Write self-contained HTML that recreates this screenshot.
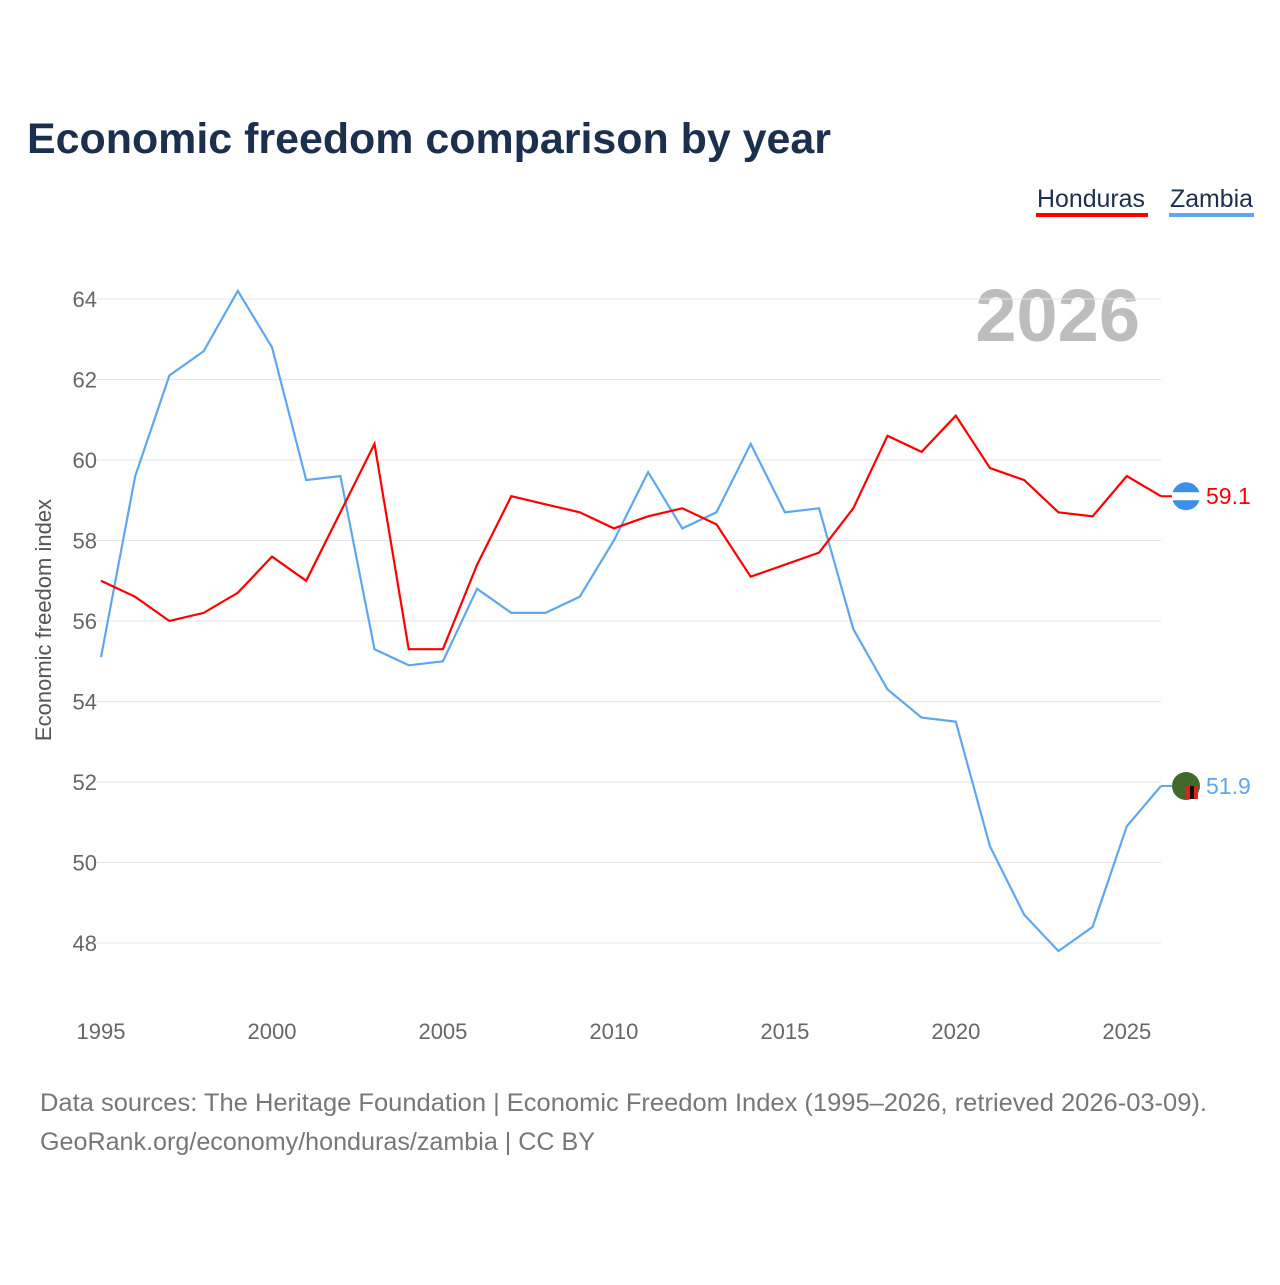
<!DOCTYPE html>
<html><head><meta charset="utf-8"><style>
body{margin:0;background:#fff;font-family:"Liberation Sans",sans-serif;}
</style></head><body>
<svg width="1280" height="1280" viewBox="0 0 1280 1280" xmlns="http://www.w3.org/2000/svg">
<text x="27" y="153" font-size="43" font-weight="bold" fill="#1b2f4e" textLength="804" lengthAdjust="spacingAndGlyphs">Economic freedom comparison by year</text>
<g>
<text x="1037" y="207" font-size="25" fill="#1b2f4e" textLength="108" lengthAdjust="spacingAndGlyphs">Honduras</text>
<rect x="1036" y="213" width="112" height="4" fill="#ff0000"/>
<text x="1170" y="207" font-size="25" fill="#1b2f4e" textLength="83" lengthAdjust="spacingAndGlyphs">Zambia</text>
<rect x="1169" y="213" width="85" height="4" fill="#5ea7ee"/>
</g>
<text x="1140" y="341" font-size="74" font-weight="bold" fill="#bdbdbd" text-anchor="end">2026</text>
<text transform="translate(51,620) rotate(-90)" font-size="22" fill="#555" text-anchor="middle">Economic freedom index</text>
<g id="grid"></g><g id="lines"></g>
<text x="40" y="1111" font-size="25" fill="#777" textLength="1167" lengthAdjust="spacingAndGlyphs">Data sources: The Heritage Foundation | Economic Freedom Index (1995–2026, retrieved 2026-03-09).</text>
<text x="40" y="1150" font-size="25" fill="#777" textLength="555" lengthAdjust="spacingAndGlyphs">GeoRank.org/economy/honduras/zambia | CC BY</text>
</svg>
<script>
const years=[1995,1996,1997,1998,1999,2000,2001,2002,2003,2004,2005,2006,2007,2008,2009,2010,2011,2012,2013,2014,2015,2016,2017,2018,2019,2020,2021,2022,2023,2024,2025,2026];
const honduras=[57.0,56.6,56.0,56.2,56.7,57.6,57.0,58.7,60.4,55.3,55.3,57.4,59.1,58.9,58.7,58.3,58.6,58.8,58.4,57.1,57.4,57.7,58.8,60.6,60.2,61.1,59.8,59.5,58.7,58.6,59.6,59.1];
const zambia=[55.1,59.6,62.1,62.7,64.2,62.8,59.5,59.6,55.3,54.9,55.0,56.8,56.2,56.2,56.6,58.0,59.7,58.3,58.7,60.4,58.7,58.8,55.8,54.3,53.6,53.5,50.4,48.7,47.8,48.4,50.9,51.9];
const yTicks=[48,50,52,54,56,58,60,62,64];
const xTicks=[1995,2000,2005,2010,2015,2020,2025];
const NS="http://www.w3.org/2000/svg";
const xs=y=>101+(y-1995)*(1060/31);
const ys=v=>943-(v-48)*40.25;
const grid=document.getElementById('grid'),lines=document.getElementById('lines');
function mk(tag,attrs,parent){const e=document.createElementNS(NS,tag);for(const k in attrs)e.setAttribute(k,attrs[k]);parent.appendChild(e);return e;}
yTicks.forEach(t=>{
 const l=mk('line',{x1:96,x2:1161,y1:ys(t),y2:ys(t),stroke:'#e6e6e6','stroke-width':1},grid);
 
 
 const tx=mk('text',{x:97,y:ys(t)+8,'font-size':22,fill:'#666','text-anchor':'end'},grid);
 tx.textContent=t;
 
 
});
xTicks.forEach(t=>{
 const tx=mk('text',{x:xs(t),y:1039,'font-size':22,fill:'#666','text-anchor':'middle'},grid);
 tx.textContent=t;
 
 
});
function series(vals,color,name){
 const d=vals.map((v,i)=>(i?'L':'M')+xs(years[i]).toFixed(1)+','+ys(v).toFixed(1)).join('');
 const p=mk('path',{d:d,fill:'none',stroke:color,'stroke-width':2.2},lines);
 
 
 const last=vals[vals.length-1],ly=ys(last);
 mk('line',{x1:xs(2026),x2:1176,y1:ly,y2:ly,stroke:color,'stroke-width':2},lines);
 const c=mk('circle',{cx:1186,cy:ly,r:14,fill:name==='honduras'?'#3d8fe8':'#3f6b2a'},lines);
 
 
 if(name==='honduras'){mk('rect',{x:1172,y:ly-4,width:28,height:8,fill:'#fff'},lines);}
 else{mk('rect',{x:1186,y:ly,width:12,height:13,fill:'#d22'},lines);mk('rect',{x:1190,y:ly,width:4,height:13,fill:'#111'},lines);}
 const t=mk('text',{x:1206,y:ly+8,'font-size':23,fill:color},lines);
 t.textContent=last.toFixed(1);
 
 
}
series(zambia,'#5ea7ee','zambia');
series(honduras,'#ff0000','honduras');
</script>
</body></html>
